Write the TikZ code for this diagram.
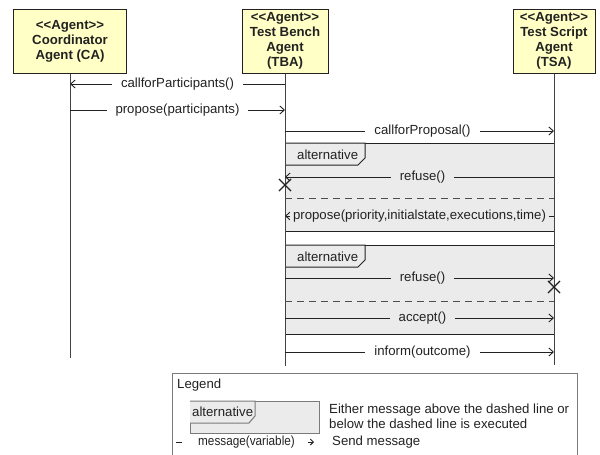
\documentclass[tikz,border=0pt]{standalone}
\usepackage{fontspec}
\setmainfont{Liberation Sans}
\usetikzlibrary{arrows.meta,shapes.misc}
\definecolor{agentfill}{HTML}{FFFFC6}
\definecolor{altfill}{HTML}{EBEBEB}
\definecolor{ink}{HTML}{222222}
\definecolor{legendline}{HTML}{7A7A7A}
\newcommand{\agentst}{<\kern0pt<Agent>\kern0pt>}

\begin{document}
\begin{tikzpicture}[x=1pt,y=-1pt,
  font=\fontsize{13.2}{15}\selectfont, text=ink,
  agent/.style={draw=ink, fill=agentfill, line width=1pt, align=center,
    font=\fontsize{13.2}{15}\selectfont\bfseries, inner sep=0pt},
  lifeline/.style={draw=ink!85, line width=1pt},
  msg/.style={draw=ink, line width=0.9pt, -{Straight Barb[length=4.5pt,width=8pt]}},
  lbl/.style={fill=white, inner xsep=9pt, inner ysep=1pt},
  lblalt/.style={lbl, fill=altfill},
  altframe/.style={draw=ink, fill=altfill, line width=1pt},
  altsep/.style={draw=ink!80, line width=1pt, dash pattern=on 7pt off 5pt},
  stopmark/.style={draw=ink, cross out, line width=1.1pt, minimum size=11pt, inner sep=0pt},
  plain/.style={inner sep=0pt, anchor=west},
]
\useasboundingbox (0,0) rectangle (600,455);

% participants
\node[agent, minimum width=113pt, minimum height=64pt] (ca) at (70,41)
  {\agentst\\Coordinator\\Agent (CA)};
\node[agent, minimum width=86pt, minimum height=64pt] (tba) at (285,41)
  {\agentst\\Test Bench\\Agent\\(TBA)};
\node[agent, minimum width=82pt, minimum height=64pt] (tsa) at (554,41)
  {\agentst\\Test Script\\Agent\\(TSA)};

% alternative fragments
\draw[altframe] (tba.south |- 0,143) rectangle (tsa.south |- 0,231);
\draw[altframe] (tba.south |- 0,143) -- (365,143) -- (365,158) -- (358,165) -- (tba.south |- 0,165);
\node[plain] (alt1) at (297,155) {alternative};

\draw[altframe] (tba.south |- 0,245) rectangle (tsa.south |- 0,334);
\draw[altframe] (tba.south |- 0,245) -- (365,245) -- (365,260) -- (358,267) -- (tba.south |- 0,267);
\node[plain] (alt2) at (297,257) {alternative};

% lifelines
\coordinate (caend) at (70,358);
\coordinate (tbaend) at (285,366);
\coordinate (tsaend) at (554,365);
\draw[lifeline] (ca.south) -- (caend);
\draw[lifeline] (tba.south) -- (tbaend);
\draw[lifeline] (tsa.south) -- (tsaend);

% separators inside the fragments
\draw[altsep] (tba.south |- 0,198) -- (tsa.south |- 0,198);
\draw[altsep] (tba.south |- 0,301) -- (tsa.south |- 0,301);

% messages
\draw[msg] (tba.south |- 0,84) -- node[lbl] (m1) {callforParticipants()} (ca.south |- 0,84);
\draw[msg] (ca.south |- 0,110) -- node[lbl] (m2) {propose(participants)} (tba.south |- 0,110);
\draw[msg] (tba.south |- 0,131) -- node[lbl, xshift=3pt] (m3) {callforProposal()} (tsa.south |- 0,131);
\draw[msg] (tsa.south |- 0,177) -- node[lblalt, xshift=3pt] (m4) {refuse()} (tba.south |- 0,177);
\draw[msg] (tsa.south |- 0,216) -- node[lblalt, inner xsep=3pt] (m5) {propose(priority,initialstate,executions,time)} (tba.south |- 0,216);
\draw[msg] (tba.south |- 0,278) -- node[lblalt, xshift=3pt] (m6) {refuse()} (tsa.south |- 0,278);
\draw[msg] (tba.south |- 0,318) -- node[lblalt, xshift=3pt] (m7) {accept()} (tsa.south |- 0,318);
\draw[msg] (tba.south |- 0,352) -- node[lbl, xshift=3pt] (m8) {inform(outcome)} (tsa.south |- 0,352);

% terminations
\node[stopmark] (x1) at (285,185) {};
\node[stopmark] (x2) at (554,287) {};

% legend
\draw[draw=legendline, line width=1pt] (172,462) |- (577,373) -- (577,462);
\node[plain] (legtitle) at (177,385) {Legend};
\draw[altframe, draw=legendline] (190,401) rectangle (319,433);
\draw[altframe, draw=legendline] (190,401) -- (255,401) -- (255,416) -- (249,423) -- (190,423);
\node[plain] (legalt) at (192,412) {alternative};
\node[plain] (legtxt1) at (329,410) {Either message above the dashed line or};
\node[plain] (legtxt2) at (329,424) {below the dashed line is executed};
\coordinate (dashA) at (176,442);
\coordinate (dashB) at (182,442);
\draw[draw=ink, line width=0.9pt] (dashA) -- (dashB);
\node[plain] (legmsg) at (198,442) {\scalebox{0.89}[1]{message(variable)}};
\coordinate (arrA) at (308,442);
\coordinate (arrB) at (314,442);
\draw[draw=ink, line width=0.9pt, -{Straight Barb[length=3pt,width=6pt]}] (arrA) -- (arrB);
\node[plain] (legsend) at (332,442) {Send message};
\end{tikzpicture}
\end{document}
